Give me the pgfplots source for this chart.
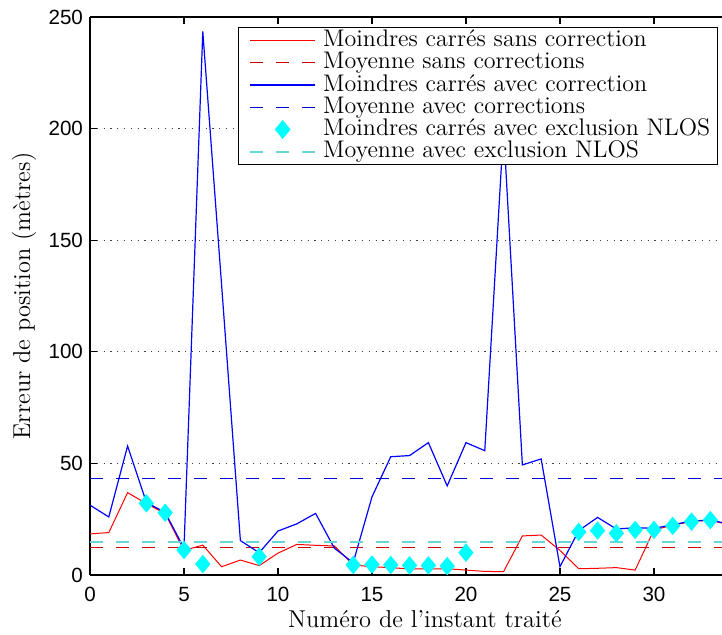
\documentclass[border=0pt]{standalone}
\usepackage{fontspec}
\usepackage{pgfplots}
\pgfplotsset{compat=1.18}
\newfontfamily\ticksans{Liberation Sans}
\definecolor{redA}{RGB}{255,0,0}
\definecolor{redM}{RGB}{204,0,0}
\definecolor{blueA}{RGB}{0,0,255}
\definecolor{blueM}{RGB}{0,0,210}
\definecolor{cyanA}{RGB}{0,255,255}
\definecolor{cyanM}{RGB}{100,215,215}
\pgfplotsset{mylegimg/.style={legend image code/.code={\path (0pt,0pt); \draw[mark repeat=2,mark phase=2,##1] plot coordinates {(2pt,0pt) (18.25pt,0pt) (34.5pt,0pt)};}}}
\begin{document}
\begin{tikzpicture}
\useasboundingbox (-45pt,-30pt) rectangle (316pt,287.5pt);
\begin{axis}[
  at={(0,0)}, anchor=south west,
  scale only axis, width=316pt, height=279pt,
  xmin=0, xmax=33.62, ymin=0, ymax=250,
  axis x line*=box, axis y line*=left,
  tick align=inside,
  xtick={0,5,...,30}, ytick={0,50,...,250},
  ymajorgrids=true,
  major grid style={black!75, line width=0.6pt, dash pattern=on 0.6pt off 2.8pt},
  major tick length=3.3pt,
  tick style={black, line width=0.6pt},
  axis line style={black, line width=0.7pt},
  tick label style={font=\ticksans\fontsize{10.3}{12}\selectfont},
  /pgf/number format/assume math mode=true,
  xticklabel style={yshift=-2.7pt},
  label style={font=\fontsize{12.2}{14}\selectfont},
  xlabel={Numéro de l'instant traité},
  ylabel={Erreur de position (mètres)},
  xlabel style={at={(axis description cs:0.530,-0.0932)}, anchor=base},
  ylabel style={at={(axis description cs:-0.0949,0.5)}, anchor=base},
  mylegimg,
  legend cell align=left,
  legend style={
    at={(axis description cs:0.9935,0.9821)}, anchor=north east,
    draw=black, line width=0.6pt, fill=white,
    inner xsep=3.5pt, inner ysep=1pt,
    row sep=0pt, column sep=3.5pt,
    font=\fontsize{12}{13}\selectfont,
    nodes={inner sep=0pt, text height=8.6pt, text depth=2.5pt},
  },
]
\addplot[redA, line width=0.5pt] coordinates {
(0,18.4) (1,19.0) (2,36.9) (3,32.0) (4,27.5) (5,11.0) (6,13.4) (7,3.7) (8,6.7) (9,4.2)
(10,9.8) (11,13.7) (12,13.3) (13,13.0) (14,4.5) (15,3.7) (16,3.3) (17,2.7) (18,2.7) (19,2.8)
(20,2.2) (21,1.6) (22,1.5) (23,17.5) (24,17.9) (25,11.0) (26,2.8) (27,3.0) (28,3.3) (29,2.2)
(30,20.2) (31,22.3) (32,24.0) (33,24.5) (34,22.5)
};
\addlegendentry{Moindres carrés sans correction}
\addplot[redM, line width=0.6pt, dash pattern=on 6.5pt off 6.5pt] coordinates {(0,12.2) (34,12.2)};
\addlegendentry{Moyenne sans corrections}
\addplot[blueA, line width=0.6pt] coordinates {
(0,31.3) (1,26.0) (2,57.8) (3,32.5) (4,28.0) (5,12.0) (6,243.5) (7,130) (8,15.4) (9,10.0)
(10,19.7) (11,22.9) (12,27.6) (13,12.0) (14,5.5) (15,35.0) (16,53.0) (17,53.5) (18,59.3) (19,39.9)
(20,59.3) (21,55.7) (22,200) (23,49.3) (24,52.0) (25,3.7) (26,19.9) (27,25.8) (28,20.6) (29,21.2)
(30,20.9) (31,22.5) (32,24.2) (33,24.6) (34,22.8)
};
\addlegendentry{Moindres carrés avec correction}
\addplot[blueM, line width=0.6pt, dash pattern=on 6.5pt off 6.5pt] coordinates {(0,43.3) (34,43.3)};
\addlegendentry{Moyenne avec corrections}
\addplot[only marks, mark=diamond*, mark size=4.3pt, mark options={fill=cyanA, draw=cyanA, xscale=1.1}, mylegimg] coordinates {
(3,32.1) (4,27.9) (5,11.2) (6,4.9) (9,8.2)
(14,4.5) (15,4.7) (16,4.5) (17,4.3) (18,4.3) (19,4.0) (20,10.0)
(26,19.3) (27,19.9) (28,18.7) (29,20.2) (30,20.2) (31,22.0) (32,23.9) (33,24.6)
};
\addlegendentry{Moindres carrés avec exclusion NLOS}
\addplot[cyanM, line width=1pt, dash pattern=on 6.5pt off 6.5pt] coordinates {(0,14.9) (34,14.9)};
\addlegendentry{Moyenne avec exclusion NLOS}
\end{axis}
\end{tikzpicture}
\end{document}
